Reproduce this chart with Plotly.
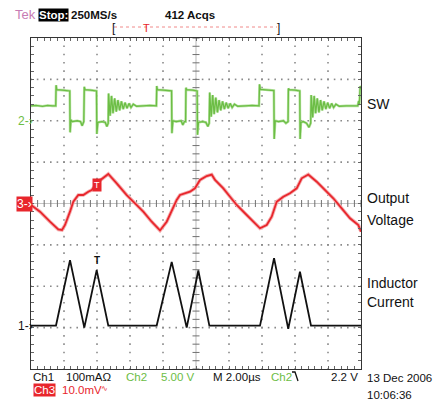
import plotly.graph_objects as go

# ---------------- data ----------------
# time axis in microseconds (M 2.00 us/div, 10 divisions)
# Ch2 : switch node "SW" (V)
sw_t = [0.0, 0.3, 0.7, 1.0, 1.3, 1.50,
        1.52, 1.56, 1.9, 2.2, 2.35,
        2.37, 2.42, 2.5, 2.8, 3.0, 3.1, 3.2,
        3.23, 3.27, 3.6, 3.97,
        3.99, 4.05, 4.3, 4.5, 4.6, 4.68,
        4.70, 4.79, 4.88, 4.97, 5.07, 5.17, 5.27, 5.37, 5.48, 5.59, 5.70, 5.82,
        5.94, 6.06, 6.20, 6.40, 6.8, 7.2, 7.60,
        7.62, 7.66, 8.0, 8.3, 8.52,
        8.54, 8.6, 8.8, 9.1, 9.2, 9.3, 9.37,
        9.39, 9.43, 9.8, 10.07,
        10.09, 10.15, 10.4, 10.6, 10.72, 10.80,
        10.83, 10.92, 11.01, 11.10, 11.20, 11.30, 11.40, 11.50, 11.61, 11.72, 11.83,
        11.95, 12.07, 12.19, 12.33, 12.53, 13.0, 13.4, 13.82,
        13.85, 13.9, 14.2, 14.5, 14.72,
        14.74, 14.8, 15.0, 15.3, 15.45, 15.55, 15.58,
        15.60, 15.65, 16.0, 16.29,
        16.31, 16.36, 16.5, 16.7, 16.85, 16.95,
        16.98, 17.07, 17.16, 17.25, 17.35, 17.45, 17.55, 17.65, 17.76, 17.87, 17.98,
        18.10, 18.22, 18.34, 18.48, 18.68, 19.1, 19.5, 19.8, 19.86, 19.9, 19.95, 20.0]
sw_v = [1.8, 1.85, 1.75, 1.85, 1.8, 1.8,
        4.3, 3.75, 3.7, 3.65, 3.6,
        -1.4, 0.1, -0.1, 0.0, -0.1, -0.6, -0.1,
        4.1, 3.75, 3.7, 3.6,
        -1.6, -0.2, -0.1, -0.2, -0.7, -0.3,
        3.3, 0.6, 3.0, 0.9, 2.7, 1.1, 2.5, 1.25, 2.35, 1.4, 2.2, 1.5,
        2.1, 1.6, 2.0, 1.75, 1.8, 1.85, 1.8,
        4.2, 3.75, 3.7, 3.65, 3.6,
        -1.5, 0.0, -0.1, 0.0, -0.5, -0.1, -0.1,
        4.0, 3.75, 3.7, 3.6,
        -1.7, -0.2, -0.1, -0.2, -0.7, -0.3,
        3.4, 0.5, 3.1, 0.8, 2.8, 1.0, 2.5, 1.25, 2.35, 1.4, 2.2,
        1.5, 2.1, 1.6, 2.0, 1.75, 1.8, 1.85, 1.8,
        4.4, 3.8, 3.75, 3.7, 3.65,
        -2.2, 0.0, -0.1, 0.0, -0.3, -0.1, -0.1,
        3.9, 3.75, 3.7, 3.6,
        -2.2, -0.2, -0.1, -0.3, -0.8, -0.3,
        3.1, 0.4, 3.0, 0.9, 2.7, 1.0, 2.5, 1.25, 2.35, 1.4, 2.2,
        1.5, 2.1, 1.6, 2.0, 1.75, 1.8, 1.85, 1.8, 2.4, 1.9, 4.2, 3.8]

# Ch3 : output voltage ripple (mV, AC coupled)
vo_t = [0.0, 0.545, 1.152, 1.655, 1.879, 2.061, 2.364, 2.564, 2.867, 3.170, 3.473,
        3.679, 4.079, 4.485, 4.685, 5.194, 5.800, 6.303, 6.806, 7.315, 7.715, 7.818,
        8.224, 8.624, 8.830, 9.030, 9.333, 9.636, 9.939, 10.242, 10.648, 10.952,
        11.152, 11.655, 12.061, 12.467, 13.073, 13.576, 13.879, 14.285, 14.588,
        14.891, 15.291, 15.697, 16.103, 16.406, 16.806, 17.315, 17.818, 18.321,
        18.830, 19.333, 19.836, 20.0]
vo_mv = [-0.36, -1.98, -4.40, -6.28, -6.40, -5.19, -1.98, 0.43, 2.05, 2.05, 2.85,
         3.26, 5.27, 6.47, 7.13, 4.88, 2.05, 0.05, -1.98, -4.40, -6.23, -6.52,
         -4.40, -0.77, 0.85, 2.05, 2.46, 2.85, 3.67, 5.68, 6.64, 7.00,
         5.68, 3.67, 1.64, -0.36, -2.78, -4.78, -5.99, -5.19, -3.19,
         0.43, 1.64, 2.46, 3.67, 6.09, 7.00, 5.27, 3.26, 1.26,
         -1.16, -3.57, -5.19, -6.81]

# Ch1 : inductor current (mA)
il_t = [0.0, 1.515, 2.364, 3.23, 3.98, 4.685, 7.618, 8.527, 9.436, 10.14, 10.81,
        13.88, 14.73, 15.59, 16.30, 16.97, 20.0]
il_ma = [5, 5, 163, 0, 139, 5, 5, 159, 0, 138, 5, 5, 168, -3, 135, 5, 5]

# channel settings (scale per division, ground position in divisions)
CH1_SCALE, CH1_POS = 100.0, -3.0   # mA/div
CH2_SCALE, CH2_POS = 5.0, 2.0      # V/div
CH3_SCALE, CH3_POS = 10.0, 0.0     # mV/div
TRIG_T = 3.98                      # trigger point (us)

# ---------------- layout constants ----------------
W, H = 434, 402
GX0, GX1, GY0, GY1 = 31, 361, 38, 369
GREEN = "#6cbd45"
RED = "#e8262c"
FONT = "Liberation Sans, Arial, sans-serif"


def px(x):
    return x / W


def py(y):
    return 1 - y / H


def to_div(vals, scale, pos):
    return [v / scale + pos for v in vals]


fig = go.Figure()

# graticule dots
gx, gy = [], []
for i in range(1, 10):
    if i == 5:
        continue
    for k in range(41):
        gx.append(i * 2.0)
        gy.append(-4 + k * 0.2)
for j in range(-3, 4):
    if j == 0:
        continue
    for k in range(51):
        gx.append(k * 0.4)
        gy.append(j)
fig.add_trace(go.Scatter(x=gx, y=gy, mode="markers", hoverinfo="skip",
                         marker=dict(symbol="square", size=1.6, color="#8a8a8a",
                                     line=dict(width=0))))
# centre cross with ticks
fig.add_trace(go.Scatter(x=[0, 20], y=[0, 0], mode="lines", hoverinfo="skip",
                         line=dict(color="#c4c4c4", width=1.2)))
fig.add_trace(go.Scatter(x=[10, 10], y=[-4, 4], mode="lines", hoverinfo="skip",
                         line=dict(color="#c4c4c4", width=1.2)))
fig.add_trace(go.Scatter(x=[k * 0.4 for k in range(51)], y=[0] * 51, mode="markers",
                         hoverinfo="skip",
                         marker=dict(symbol="line-ns", size=5,
                                     line=dict(color="#707070", width=1))))
fig.add_trace(go.Scatter(x=[10] * 41, y=[-4 + k * 0.2 for k in range(41)],
                         mode="markers", hoverinfo="skip",
                         marker=dict(symbol="line-ew", size=5,
                                     line=dict(color="#707070", width=1))))

# waveforms
sw_y = to_div(sw_v, CH2_SCALE, CH2_POS)
vo_y = to_div(vo_mv, CH3_SCALE, CH3_POS)
il_y = to_div(il_ma, CH1_SCALE, CH1_POS)

fig.add_trace(go.Scatter(x=sw_t, y=sw_y, mode="lines", hoverinfo="skip",
                         line=dict(color="#b6e3a0", width=2.6)))
fig.add_trace(go.Scatter(x=sw_t, y=sw_y, mode="lines", hoverinfo="skip",
                         line=dict(color=GREEN, width=1.3)))
fig.add_trace(go.Scatter(x=vo_t, y=vo_y, mode="lines", hoverinfo="skip",
                         line=dict(color="#f5b0b2", width=3.6)))
fig.add_trace(go.Scatter(x=vo_t, y=vo_y, mode="lines", hoverinfo="skip",
                         line=dict(color=RED, width=1.8)))
fig.add_trace(go.Scatter(x=il_t, y=il_y, mode="lines", hoverinfo="skip",
                         line=dict(color="#111111", width=1.8)))

ann = []


def text(s, x, y, color="#111111", size=12, bold=False, bg=None, xanchor="left"):
    if bold:
        s = "<b>" + s + "</b>"
    ann.append(dict(text=s, x=px(x), y=py(y), xref="paper", yref="paper",
                    xanchor=xanchor, yanchor="middle", showarrow=False,
                    font=dict(family=FONT, size=size, color=color),
                    bgcolor=bg, borderpad=0))


# header
text("Tek", 14, 15, color="#c77bb4", size=13)
text("Stop:", 38, 15, color="white", size=11.5, bold=True, bg="#000000")
text("250MS/s", 70, 15, size=11.5, bold=True)
text("412 Acqs", 164, 15, size=11.5, bold=True)
text("[", 111, 28, size=12)
text("]", 276, 28, size=12)
text("T", 146, 28, color=RED, size=11, xanchor="center")

# channel ground markers
text("2-›", 17, 120.8, color=GREEN, size=12)
text("3-›", 16, 204, color="white", size=12, bg=RED)
text("1-›", 17, 326, color="#111111", size=12)

# trace markers at the trigger point
ann.append(dict(text="<b>T</b>", x=TRIG_T, y=to_div([139], CH1_SCALE, CH1_POS)[0] + 0.05,
                xref="x", yref="y", showarrow=False, yanchor="bottom",
                font=dict(family=FONT, size=10, color="#111111")))
ann.append(dict(text="T", x=TRIG_T, y=0.45, xref="x", yref="y", showarrow=False,
                font=dict(family=FONT, size=9, color="white"), bgcolor=RED,
                borderpad=1))

# right-hand labels
text("SW", 366, 104, size=14)
text("Output", 366, 198, size=14)
text("Voltage", 366, 220, size=14)
text("Inductor", 366, 283, size=14)
text("Current", 366, 302, size=14)

# footer
text("Ch1", 32, 377, size=11.5)
text("100mAΩ", 65, 377, size=11.5)
text("Ch2", 125, 377, color=GREEN, size=11.5)
text("5.00 V", 160, 377, color=GREEN, size=11.5)
text("M 2.00µs", 212, 377, size=11.5)
text("Ch2", 270, 377, color=GREEN, size=11.5)
text("2.2 V", 330, 377, size=11.5)
text("13 Dec 2006", 366, 378, size=11.5)
text("Ch3", 33, 390, color="white", size=11.5, bg=RED)
text("10.0mV", 61, 390, color=RED, size=11.5)
text("∿", 100, 388, color=RED, size=8)
text("10:06:36", 366, 395, size=11.5)

shapes = [
    dict(type="line", xref="paper", yref="paper", x0=px(114), x1=px(277),
         y0=py(27), y1=py(27), line=dict(color="#f08a8a", width=1, dash="dot")),
    dict(type="path", xref="paper", yref="paper",
         path=f"M {px(292)},{py(372)} L {px(295)},{py(372)} L {px(298)},{py(381)}",
         line=dict(color="#111111", width=1.3)),
]

fig.update_layout(
    width=W, height=H, margin=dict(l=0, r=0, t=0, b=0),
    paper_bgcolor="white", plot_bgcolor="white", showlegend=False,
    annotations=ann, shapes=shapes,
    xaxis=dict(domain=[px(GX0), px(GX1)], range=[0, 20], showgrid=False,
               zeroline=False, showticklabels=False, showline=True,
               linecolor="#333333", linewidth=1, mirror="ticks",
               ticks="inside", tick0=0, dtick=0.4, ticklen=3, tickcolor="#666666"),
    yaxis=dict(domain=[py(GY1), py(GY0)], range=[-4, 4], showgrid=False,
               zeroline=False, showticklabels=False, showline=True,
               linecolor="#333333", linewidth=1, mirror="ticks",
               ticks="inside", tick0=0, dtick=0.2, ticklen=3, tickcolor="#666666"),
)

fig.write_html("out.html", config={"displayModeBar": False},
               post_script="document.body.style.margin='0';")
